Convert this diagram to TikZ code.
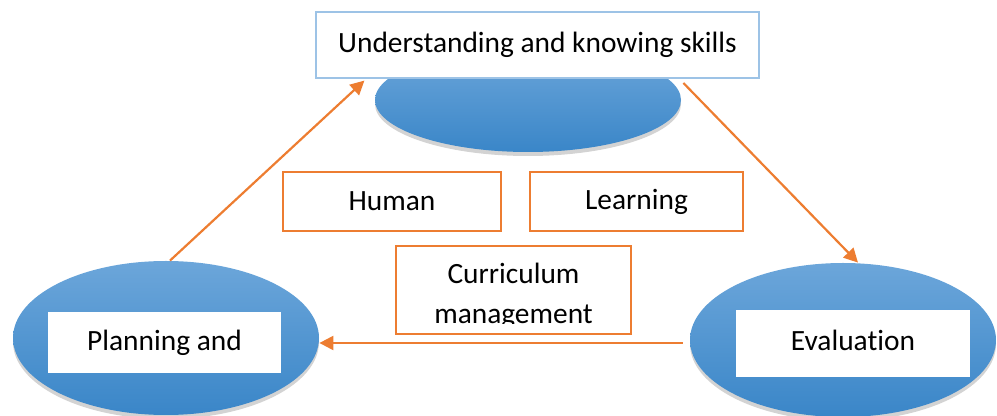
\documentclass[tikz,border=0pt]{standalone}
\usepackage{fontspec}
\setmainfont[Ligatures=NoCommon]{Carlito}
\usetikzlibrary{arrows.meta,shapes.geometric,shadows,positioning}

\definecolor{arrorange}{HTML}{ED7D31}
\definecolor{elltop}{HTML}{6CA6DA}
\definecolor{ellbot}{HTML}{3A86C8}
\definecolor{boxblue}{HTML}{9DC3E6}

\tikzset{
  blob/.style={ellipse, top color=elltop, bottom color=ellbot, draw=none,
    drop shadow={opacity=0.35, shadow xshift=0pt, shadow yshift=-2pt}},
  whitebox/.style={rectangle, fill=white, inner sep=0pt},
  orangebox/.style={rectangle, draw=arrorange, line width=1.3pt, fill=white, inner sep=0pt},
  flow/.style={draw=arrorange, line width=1.1pt, -{Triangle[length=7pt,width=7pt]}},
}

\begin{document}
\begin{tikzpicture}[x=0.5pt,y=-0.5pt,font=\fontsize{14.7}{17}\selectfont]
\useasboundingbox (0,0) rectangle (997,416);

% the three ellipses
\node (topell) [blob, minimum width=153pt, minimum height=52pt] at (528,100) {};
\node (planell) [blob, minimum width=153pt, minimum height=77pt] at (166,338) {};
\node (evalell) [blob, minimum width=153pt, minimum height=77pt] at (843,340) {};

% labels on the ellipses
\node (topbox) [whitebox, draw=boxblue, line width=0.6pt, minimum width=221.5pt, minimum height=33pt] at (537.5,45) {Understanding and knowing skills};
\node (planbox) [whitebox, minimum width=116.5pt, minimum height=30.5pt] at (164.5,342.5) {Planning and};
\node (evalbox) [whitebox, minimum width=117pt, minimum height=33.5pt] at (853,343.5) {\raisebox{3pt}{Evaluation}};

% middle boxes
\node (human) [orangebox, minimum width=109pt, minimum height=29.5pt] at (392,201.5) {Human};
\node (learn) [orangebox, minimum width=106.5pt, minimum height=29.5pt] at (636.5,201.5) {Learning};
\node (curr) [orangebox, minimum width=117.5pt, minimum height=44pt] at (513.5,290) {};
\begin{scope}
\clip ([xshift=1pt,yshift=-1pt]curr.north west) rectangle ([xshift=-1pt]curr.east |- 0,324);
\node (currtext) [align=center, font=\fontsize{14.7}{20}\selectfont] at (513.5,296) {Curriculum\\management};
\end{scope}

% arrows
\draw [flow] ([xshift=2pt]planell.north) -- ([xshift=24.5pt,yshift=-1pt]topbox.south west);
\draw [flow] ([shift={(2,-17)}]topell.east) -- ([xshift=7.5pt]evalell.north);
\draw [flow] ([shift={(-7,3)}]evalell.west) -- ([yshift=-2.5pt]planell.east);

\end{tikzpicture}
\end{document}
